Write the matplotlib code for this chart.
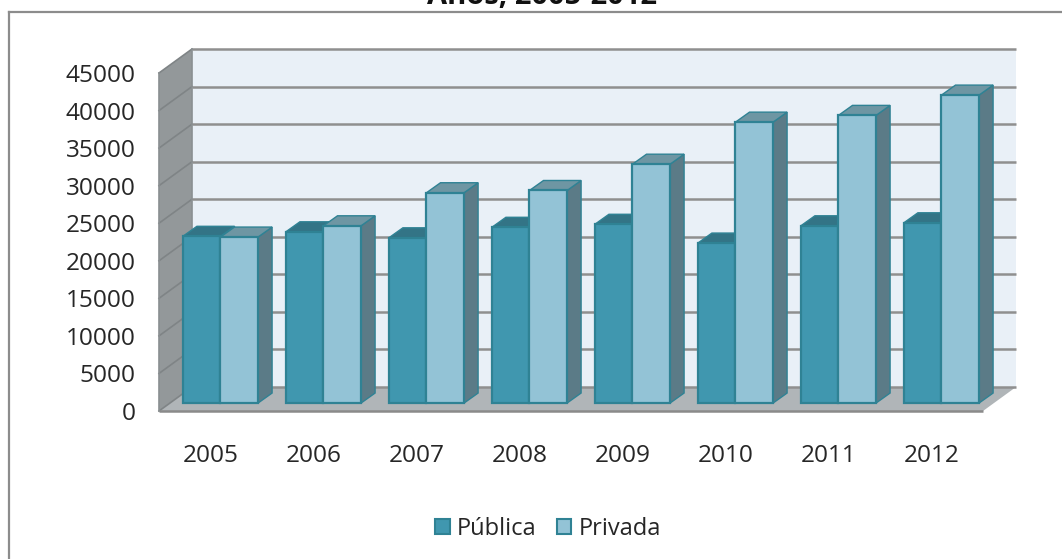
import matplotlib
matplotlib.use("Agg")
import matplotlib.pyplot as plt
from matplotlib.lines import Line2D
from matplotlib.patches import Patch, Polygon

years = ["2005", "2006", "2007", "2008", "2009", "2010", "2011", "2012"]
publica = [22200, 22800, 22000, 23400, 23800, 21300, 23600, 24000]
privada = [22100, 23600, 28000, 28300, 31800, 37400, 38300, 41000]
yticks = [0, 5000, 10000, 15000, 20000, 25000, 30000, 35000, 40000, 45000]

W, H = 1062, 559
plt.rcParams["font.family"] = ["Open Sans", "DejaVu Sans"]
txt = "#262626"
edge = "#2f8294"

fig = plt.figure(figsize=(W / 100, H / 100), dpi=100)
# axes = plano frontal del grafico
ax = fig.add_axes([159 / W, 1 - 411 / H, 824 / W, 338 / H])
ax.set_xlim(0, 8)
ax.set_ylim(0, 45000)
for s in ax.spines.values():
    s.set_visible(False)
ax.patch.set_visible(False)

# profundidad de las paredes y de las barras
wall_dx, wall_dy = 0.32, 3190
bar_dx, bar_dy = 0.136, 1330
base_dx, base_y = 0.097, 1060
bar_w = 0.365


def poly(pts, fc, ec="none", lw=0, z=1):
    ax.add_patch(Polygon(pts, closed=True, facecolor=fc, edgecolor=ec, linewidth=lw,
                         zorder=z, clip_on=False, joinstyle="miter"))


poly([(wall_dx, wall_dy), (8 + wall_dx, wall_dy), (8 + wall_dx, 45000 + wall_dy), (wall_dx, 45000 + wall_dy)], "#e9f0f7")
poly([(0, 0), (wall_dx, wall_dy), (wall_dx, 45000 + wall_dy), (0, 45000)], "#93989a")
poly([(0, 0), (8, 0), (8 + wall_dx, wall_dy), (wall_dx, wall_dy)], "#b0b5b8")
for v in yticks:
    if v > 0:
        ax.plot([wall_dx, 8 + wall_dx], [v + wall_dy, v + wall_dy], color="#8f8f8f", lw=1.8, zorder=2,
                clip_on=False, solid_capstyle="butt")
    ax.plot([0, wall_dx], [v, v + wall_dy], color="#7f8486", lw=1.2, zorder=2, clip_on=False)
ax.plot([wall_dx, 8 + wall_dx], [wall_dy, wall_dy], color="#8f8f8f", lw=1.8, zorder=2, clip_on=False, solid_capstyle="butt")
ax.plot([0, 8], [0, 0], color="#8a8a8a", lw=1.8, zorder=2, clip_on=False, solid_capstyle="butt")
ax.plot([wall_dx, wall_dx], [wall_dy, 45000 + wall_dy], color="#8a8f91", lw=1.2, zorder=2, clip_on=False)
ax.plot([0, 0], [0, 45000], color="#8a8f91", lw=1.2, zorder=2, clip_on=False)


def bar3d(x, v, front, top, side, z):
    x1 = x + bar_w
    y0 = base_y
    y1 = base_y + v
    poly([(x1, y0), (x1 + bar_dx, y0 + bar_dy), (x1 + bar_dx, y1 + bar_dy), (x1, y1)], side, edge, 1.0, z)
    poly([(x, y1), (x1, y1), (x1 + bar_dx, y1 + bar_dy), (x + bar_dx, y1 + bar_dy)], top, edge, 1.0, z)
    poly([(x, y0), (x1, y0), (x1, y1), (x, y1)], front, edge, 1.6, z)


for i in range(len(years)):
    c = i + 0.5 + base_dx
    bar3d(c - bar_w, publica[i], "#4097af", "#337486", "#337486", 3 + i * 0.1)
    bar3d(c, privada[i], "#93c3d6", "#6e96a3", "#5b7b87", 3 + i * 0.1 + 0.05)

ax.set_xticks([i + 0.5 for i in range(len(years))])
ax.set_xticklabels(years)
ax.set_yticks(yticks)
ax.set_yticklabels([str(v) for v in yticks])
ax.tick_params(axis="both", length=0, labelsize=17.6, labelcolor=txt)
ax.tick_params(axis="x", pad=24)
ax.tick_params(axis="y", pad=17)
for lb in ax.get_yticklabels():
    lb.set_va("center_baseline")

# marco y titulo cortados como en la captura
fig.add_artist(Line2D([9 / W, 9 / W], [0, 1 - 12 / H], color="#8c8c8c", lw=1.6))
fig.add_artist(Line2D([9 / W, 1], [1 - 12 / H, 1 - 12 / H], color="#8c8c8c", lw=1.6))
fig.text(542 / W, 1 - 4 / H, "Anos, 2005-2012", ha="center", va="baseline", fontsize=21, fontweight="bold", color="#111111")

handles = [Patch(facecolor="#4097af", edgecolor=edge, linewidth=1.5, label="Pública"),
           Patch(facecolor="#93c3d6", edgecolor=edge, linewidth=1.5, label="Privada")]
fig.legend(handles=handles, ncol=2, frameon=False, loc="center", bbox_to_anchor=(548 / W, 1 - 529 / H),
           fontsize=17, labelcolor=txt, handlelength=0.62, handleheight=0.62, handletextpad=0.3, columnspacing=0.85)

fig.savefig("out.png", dpi=100)
